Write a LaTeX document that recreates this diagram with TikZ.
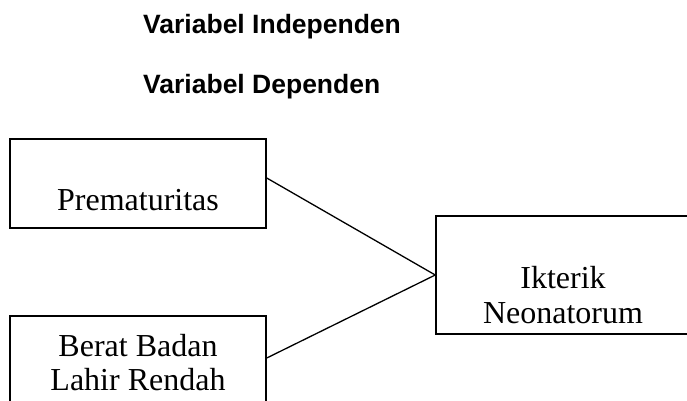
\documentclass[tikz,border=0pt]{standalone}
\usepackage{fontspec}
\setmainfont{Liberation Serif}
\newfontfamily\hdrfont{Liberation Sans}
\begin{document}
\begin{tikzpicture}[x=1pt,y=1pt,
  box/.style={draw,line width=1.5pt,inner sep=0pt},
  boxtext/.style={font=\fontsize{32}{34}\selectfont,anchor=base,inner sep=0pt},
  hdr/.style={font=\hdrfont\bfseries\fontsize{26.5}{28}\selectfont,anchor=base west,inner sep=0pt},
  link/.style={line width=1.3pt}]
\useasboundingbox (0,0) rectangle (687,400);
\node[hdr] (h1) at (143,366.5) {Variabel Independen};
\node[hdr] (h2) at (143,306.5) {Variabel Dependen};
\node[box,minimum width=256pt,minimum height=89pt] (top) at (138,216.5) {};
\node[box,minimum width=256pt,minimum height=94pt] (bot) at (138,37) {};
\node[box,minimum width=254pt,minimum height=118pt] (out) at (563,125) {};
\node[boxtext] (t1) at (138,190) {Prematuritas};
\node[boxtext] (t2) at (138,44) {Berat Badan};
\node[boxtext] (t3) at (138,10) {Lahir Rendah};
\node[boxtext] (t4) at (563,112) {Ikterik};
\node[boxtext] (t5) at (563,77) {Neonatorum};
\draw[link] ([yshift=5.5pt]top.east) -- (out.west);
\draw[link] ([yshift=5pt]bot.east) -- (out.west);
\end{tikzpicture}
\end{document}
